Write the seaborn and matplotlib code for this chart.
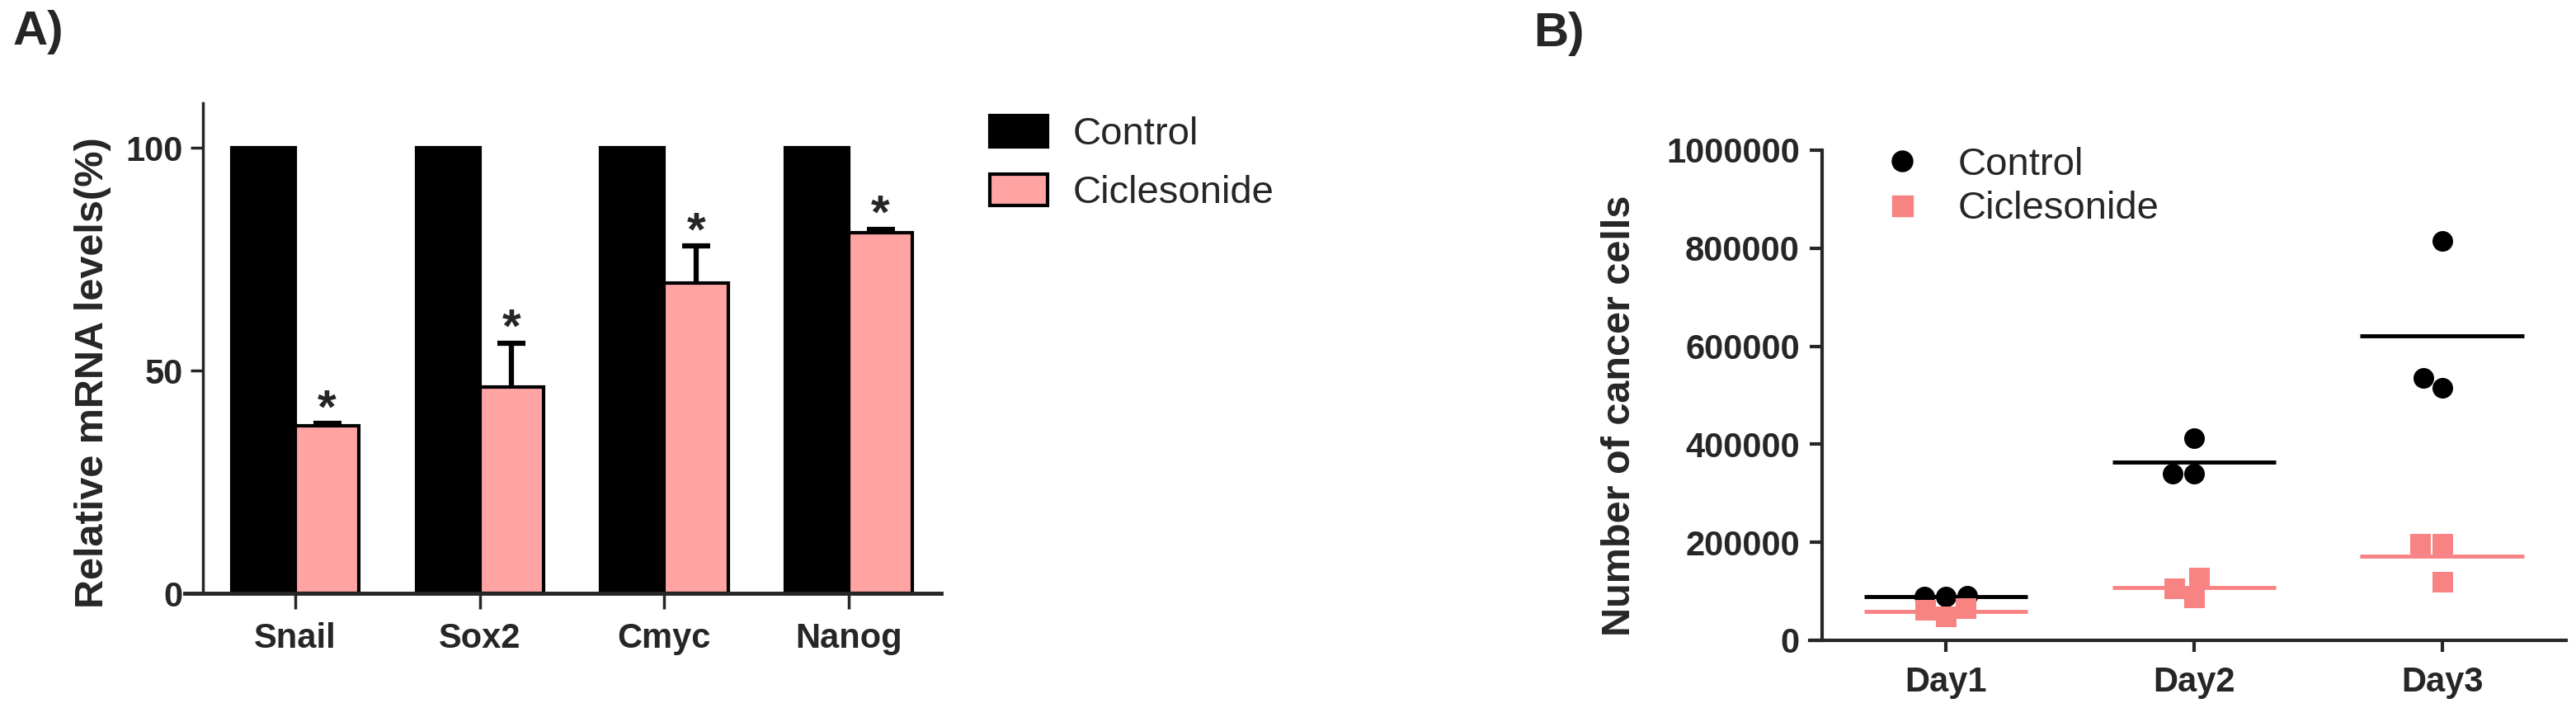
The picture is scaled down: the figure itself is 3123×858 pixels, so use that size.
import pandas as pd
import matplotlib.pyplot as plt
import seaborn as sns
from matplotlib.patches import Patch
from matplotlib.lines import Line2D
from matplotlib.ticker import StrMethodFormatter

# Panel A: relative mRNA levels (%)
genes = ['Snail', 'Sox2', 'Cmyc', 'Nanog']
control_pct = [100, 100, 100, 100]
cicle_pct = [37.6, 46.3, 69.6, 81.0]
cicle_err = [0.5, 9.8, 8.3, 0.7]

# Panel B: number of cancer cells, three replicates per day
days = ['Day1', 'Day2', 'Day3']
control_cells = [[89000, 89000, 91000], [340000, 340000, 412000], [515000, 536000, 815000]]
cicle_cells = [[63000, 49000, 66000], [128000, 87000, 106000], [197000, 197000, 120000]]

groups = ['Control', 'Ciclesonide']
pink_bar = '#FFA3A3'
pink_dot = '#F88383'

sns.set_style('ticks')
plt.rcParams['font.family'] = ['Liberation Sans', 'DejaVu Sans']

fig = plt.figure(figsize=(31.23, 8.58), dpi=100)
axA = fig.add_axes([0.0717, 0.162, 0.2936, 0.6923])
axB = fig.add_axes([0.7025, 0.0956, 0.2936, 0.6923])

# ---------- A) bar chart ----------
dfA = pd.DataFrame({
    'gene': genes * 2,
    'value': control_pct + cicle_pct,
    'group': ['Control'] * len(genes) + ['Ciclesonide'] * len(genes),
})
sns.barplot(data=dfA, x='gene', y='value', hue='group', hue_order=groups,
            palette=['black', pink_bar], saturation=1, width=0.69, errorbar=None,
            edgecolor='black', linewidth=3, ax=axA, legend=False)

# error bars (upper only) and significance stars
cic_bars = axA.containers[1]
for bar, err in zip(cic_bars, cicle_err):
    x = bar.get_x() + bar.get_width() / 2
    h = bar.get_height()
    eb = axA.errorbar(x, h, yerr=[[0], [err]], fmt='none', ecolor='black',
                      elinewidth=4.5, capsize=12.5, capthick=4.5, zorder=1)
    eb[1][0].remove()  # no cap at the bar top
    axA.text(x, h + err - 2, '*', ha='center', va='bottom', fontsize=42,
             fontweight='bold')

axA.set_ylim(0, 110)
axA.set_xlim(-0.6, 3.5)
axA.set_yticks([0, 50, 100])
axA.spines['left'].set_position(('data', -0.5))
axA.spines['left'].set_linewidth(2.5)
axA.spines['bottom'].set_linewidth(3.5)
sns.despine(ax=axA)
axA.tick_params(axis='y', length=11, width=2.5, pad=6.5, labelsize=30)
axA.tick_params(axis='x', length=14, width=2.5, pad=11, labelsize=30)
for lab in axA.get_xticklabels() + axA.get_yticklabels():
    lab.set_fontweight('bold')
axA.set_xlabel('')
axA.set_ylabel('Relative mRNA levels(%)', fontsize=35, fontweight='bold',
               va='center')
axA.yaxis.set_label_coords(-0.121, 0.45)

axA.legend(handles=[Patch(facecolor='black', edgecolor='black', lw=3),
                    Patch(facecolor=pink_bar, edgecolor='black', lw=3)],
           labels=groups, loc='upper left', bbox_to_anchor=(1.064, 0.975),
           frameon=False, fontsize=34, handlelength=1.5, handleheight=0.85,
           handletextpad=0.65, labelspacing=0.55, borderpad=0, borderaxespad=0)

# ---------- B) scatter with mean ----------
dfB_ctrl = pd.DataFrame({'day': [d for d, v in zip(days, control_cells) for _ in v],
                         'cells': [c for v in control_cells for c in v]})
dfB_cic = pd.DataFrame({'day': [d for d, v in zip(days, cicle_cells) for _ in v],
                        'cells': [c for v in cicle_cells for c in v]})

sns.swarmplot(data=dfB_ctrl, x='day', y='cells', order=days, color='black',
              marker='o', size=18, linewidth=0, ax=axB, zorder=3)
sns.swarmplot(data=dfB_cic, x='day', y='cells', order=days, color=pink_dot,
              marker='s', size=18, linewidth=0, ax=axB, zorder=3)

for df, col in [(dfB_ctrl, 'black'), (dfB_cic, pink_dot)]:
    means = df.groupby('day')['cells'].mean().reindex(days)
    for i, m in enumerate(means):
        axB.hlines(m, i - 0.33, i + 0.33, color=col, lw=3.5, zorder=2)

axB.set_ylim(0, 1000000)
axB.set_xlim(-0.55, 2.5)
axB.set_yticks([0, 200000, 400000, 600000, 800000, 1000000])
axB.yaxis.set_major_formatter(StrMethodFormatter('{x:.0f}'))
axB.spines['left'].set_position(('data', -0.5))
axB.spines['left'].set_linewidth(3)
axB.spines['bottom'].set_linewidth(3)
sns.despine(ax=axB)
axB.tick_params(axis='y', length=11, width=3, pad=8.5, labelsize=30)
axB.tick_params(axis='x', length=10, width=3, pad=12, labelsize=30)
for lab in axB.get_xticklabels() + axB.get_yticklabels():
    lab.set_fontweight('bold')
axB.set_xlabel('')
axB.set_ylabel('Number of cancer cells', fontsize=35, fontweight='bold',
               va='center')
axB.yaxis.set_label_coords(-0.251, 0.458)

axB.legend(handles=[Line2D([], [], ls='', marker='o', color='black', markersize=18),
                    Line2D([], [], ls='', marker='s', color=pink_dot, markersize=18)],
           labels=groups, loc='upper left', bbox_to_anchor=(0.096, 1.007),
           frameon=False, fontsize=34, handlelength=1.0, handletextpad=0.94,
           labelspacing=0.2, borderpad=0, borderaxespad=0)

# panel letters
fig.text(16 / 3123, 1 - 12 / 858, 'A)', fontsize=42, fontweight='bold', va='top', ha='left')
fig.text(1859 / 3123, 1 - 14 / 858, 'B)', fontsize=42, fontweight='bold', va='top', ha='left')

fig.savefig('out.png', dpi=100)
